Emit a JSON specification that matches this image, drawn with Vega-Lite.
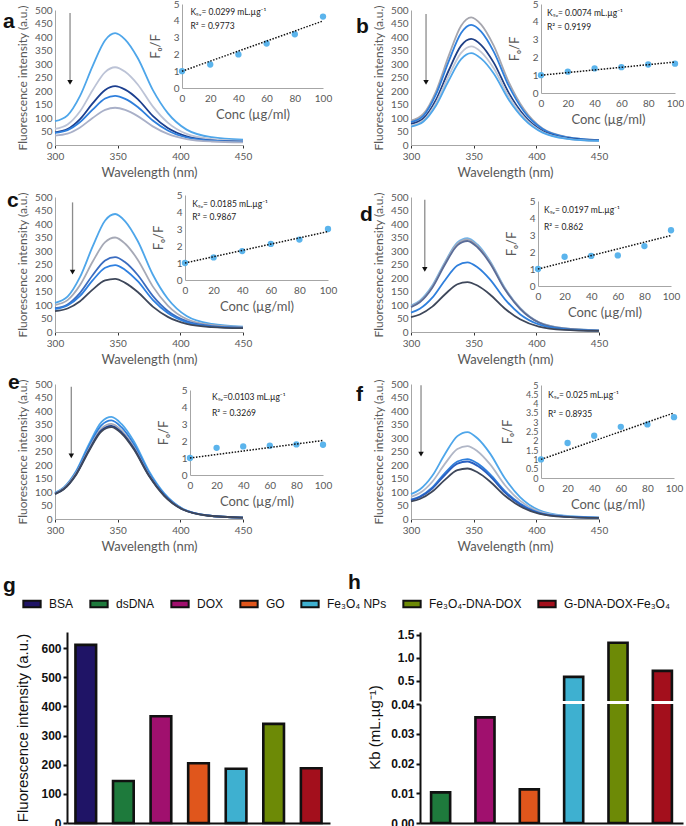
{
"$schema":"https://vega.github.io/schema/vega-lite/v6.json",
"background":"white",
"padding":{"left":3,"top":-1,"right":0,"bottom":0},
"config":{
 "view":{"stroke":null},
 "axis":{"grid":false,"labelFont":"Lato","titleFont":"Lato","labelColor":"#595959","titleColor":"#595959","domainColor":"#a6a6a6","tickColor":"#333","labelFontSize":10,"titleFontSize":13,"titleFontWeight":"normal","ticks":false,"labelPadding":3,"labelFlush":false,"labelOverlap":false},
 "title":{"font":"Liberation Sans","fontSize":21,"fontWeight":"bold","color":"#111","anchor":"start","frame":"group"}
},
"concat":[
{"concat":[
  {"title":{"text":"a","orient":"bottom","dx":-52,"dy":-172},"width":188,"height":135,
   "resolve":{"scale":{"x":"independent","y":"independent"}},
   "layer":[
    {"encoding":{
      "x":{"field":"w","type":"quantitative","scale":{"domain":[300,450]},"axis":{"values":[300,350,400,450],"title":"Wavelength (nm)","ticks":true,"tickSize":3,"titlePadding":5}},
      "y":{"field":"v","type":"quantitative","scale":{"domain":[0,500]},"axis":{"values":[0,50,100,150,200,250,300,350,400,450,500],"title":"Fluorescence intensity (a.u.)","titleFontSize":12,"titlePadding":5}}},
     "layer":[
     {"data":{"values":[
      {"w":300,"a1":88,"a2":60,"a3":47,"a4":45,"a5":35},
      {"w":310,"a1":110,"a2":76,"a3":59,"a4":55,"a5":42},
      {"w":320,"a1":182,"a2":125,"a3":96,"a4":85,"a5":65},
      {"w":330,"a1":292,"a2":203,"a3":154,"a4":131,"a5":100},
      {"w":340,"a1":388,"a2":270,"a3":204,"a4":172,"a5":130},
      {"w":348,"a1":414,"a2":288,"a3":218,"a4":182,"a5":138},
      {"w":356,"a1":390,"a2":271,"a3":205,"a4":171,"a5":130},
      {"w":366,"a1":322,"a2":224,"a3":170,"a4":141,"a5":107},
      {"w":378,"a1":204,"a2":143,"a3":108,"a4":91,"a5":69},
      {"w":390,"a1":118,"a2":83,"a3":63,"a4":54,"a5":41},
      {"w":405,"a1":57,"a2":41,"a3":32,"a4":28,"a5":22},
      {"w":425,"a1":29,"a2":22,"a3":17,"a4":16,"a5":13},
      {"w":450,"a1":20,"a2":15,"a3":12,"a4":12,"a5":10}]},
      "transform":[{"fold":["a1","a2","a3","a4","a5"],"as":["curve","v"]}],
      "mark":{"type":"line","interpolate":"monotone","strokeWidth":1.8},
      "encoding":{
       "stroke":{"field":"curve","type":"nominal","legend":null,"scale":{"domain":["a1","a2","a3","a4","a5","b1","b2","b3","b4","b5","c1","c2","c3","c4","c5","d1","d2","d3","d4","d5","e1","e2","e3","e4","e5","f1","f2","f3","f4","f5"],"range":["#4ea6ea","#bcc3d6","#1c3f8f","#2f7fdc","#a9b0c8","#a6a6ae","#2f7fdc","#1f3f85","#c3c6d2","#4ea6ea","#4ea6ea","#a6a9b6","#3a6cc0","#2f80e0","#3e475a","#6fb4ec","#a6a9b6","#5a6c98","#2f7fdc","#3e475a","#4ea6ea","#2f7fdc","#a6a9b6","#1c3f8f","#3e475a","#4ea6ea","#b0b6c6","#2f7fdc","#2a5fc0","#3e475a"]}}}},
     {"data":{"values":[{"w":312,"v":489,"v2":236}]},"mark":{"type":"rule","color":"#8c8c8c","strokeWidth":1.3},"encoding":{"y2":{"field":"v2"}}},
     {"data":{"values":[{"w":312,"v":232}]},"mark":{"type":"point","shape":"triangle-down","filled":true,"color":"#111","opacity":1,"size":30}}
    ]},
    {"encoding":{
      "x":{"field":"conc","type":"quantitative","scale":{"domain":[0,100],"range":[127,268]},"axis":{"orient":"bottom","offset":-57,"values":[0,20,40,60,80,100],"title":"Conc (µg/ml)","labelPadding":5,"titlePadding":5}},
      "y":{"field":"F","type":"quantitative","scale":{"domain":[0,5],"range":[78,-6]},"axis":{"orient":"left","offset":-127,"values":[0,1,2,3,4,5],"title":"Fₒ/F","titlePadding":11}}},
     "layer":[
     {"data":{"values":[{"conc":0,"F":1},{"conc":20,"F":1.4},{"conc":40,"F":2.0},{"conc":60,"F":2.65},{"conc":80,"F":3.2},{"conc":100,"F":4.25}]},"mark":{"type":"circle","size":40,"color":"#5bb4ec","opacity":1}},
     {"data":{"values":[{"conc":0,"F":1},{"conc":100,"F":3.99}]},"mark":{"type":"line","color":"#111","strokeWidth":1.5,"strokeDash":[1.5,1.5]}},
     {"data":{"values":[{"conc":6,"F":4.55,"label":"Kₛᵥ= 0.0299 mL.µg⁻¹"},{"conc":6,"F":3.7,"label":"R² = 0.9773"}]},"mark":{"type":"text","align":"left","baseline":"middle","fontSize":8.5,"font":"Lato","color":"#222"},"encoding":{"text":{"field":"label"}}}
    ]}
   ]},
  {"title":{"text":"b","orient":"bottom","dx":-55,"dy":-167},"width":188,"height":135,
   "resolve":{"scale":{"x":"independent","y":"independent"}},
   "layer":[
    {"encoding":{
      "x":{"field":"w","type":"quantitative","scale":{"domain":[300,450]},"axis":{"values":[300,350,400,450],"title":"Wavelength (nm)","ticks":true,"tickSize":3,"titlePadding":5}},
      "y":{"field":"v","type":"quantitative","scale":{"domain":[0,500]},"axis":{"values":[0,50,100,150,200,250,300,350,400,450,500],"title":"Fluorescence intensity (a.u.)","titleFontSize":12,"titlePadding":5}}},
     "layer":[
     {"data":{"values":[
      {"w":300,"b1":90,"b2":85,"b3":78,"b4":72,"b5":68},
      {"w":310,"b1":116,"b2":109,"b3":99,"b4":92,"b5":87},
      {"w":320,"b1":199,"b2":188,"b3":168,"b4":156,"b5":146},
      {"w":330,"b1":329,"b2":309,"b3":275,"b4":255,"b5":238},
      {"w":340,"b1":442,"b2":415,"b3":368,"b4":341,"b5":318},
      {"w":348,"b1":473,"b2":445,"b3":393,"b4":365,"b5":340},
      {"w":356,"b1":446,"b2":420,"b3":370,"b4":344,"b5":320},
      {"w":366,"b1":368,"b2":346,"b3":305,"b4":284,"b5":265},
      {"w":378,"b1":233,"b2":219,"b3":193,"b4":180,"b5":168},
      {"w":390,"b1":133,"b2":125,"b3":111,"b4":103,"b5":97},
      {"w":405,"b1":61,"b2":59,"b3":52,"b4":48,"b5":46},
      {"w":425,"b1":29,"b2":28,"b3":25,"b4":23,"b5":23},
      {"w":450,"b1":18,"b2":18,"b3":16,"b4":15,"b5":15}]},
      "transform":[{"fold":["b1","b2","b3","b4","b5"],"as":["curve","v"]}],
      "mark":{"type":"line","interpolate":"monotone","strokeWidth":1.8},
      "encoding":{
       "stroke":{"field":"curve","type":"nominal","legend":null,"scale":{"domain":["a1","a2","a3","a4","a5","b1","b2","b3","b4","b5","c1","c2","c3","c4","c5","d1","d2","d3","d4","d5","e1","e2","e3","e4","e5","f1","f2","f3","f4","f5"],"range":["#4ea6ea","#bcc3d6","#1c3f8f","#2f7fdc","#a9b0c8","#a6a6ae","#2f7fdc","#1f3f85","#c3c6d2","#4ea6ea","#4ea6ea","#a6a9b6","#3a6cc0","#2f80e0","#3e475a","#6fb4ec","#a6a9b6","#5a6c98","#2f7fdc","#3e475a","#4ea6ea","#2f7fdc","#a6a9b6","#1c3f8f","#3e475a","#4ea6ea","#b0b6c6","#2f7fdc","#2a5fc0","#3e475a"]}}}},
     {"data":{"values":[{"w":312,"v":485,"v2":236}]},"mark":{"type":"rule","color":"#8c8c8c","strokeWidth":1.3},"encoding":{"y2":{"field":"v2"}}},
     {"data":{"values":[{"w":312,"v":232}]},"mark":{"type":"point","shape":"triangle-down","filled":true,"color":"#111","opacity":1,"size":30}}
    ]},
    {"encoding":{
      "x":{"field":"conc","type":"quantitative","scale":{"domain":[0,100],"range":[130,264]},"axis":{"orient":"bottom","offset":-52,"values":[0,20,40,60,80,100],"title":"Conc (µg/ml)","labelPadding":5,"titlePadding":5}},
      "y":{"field":"F","type":"quantitative","scale":{"domain":[0,5],"range":[83,-6]},"axis":{"orient":"left","offset":-130,"values":[0,1,2,3,4,5],"title":"Fₒ/F","titlePadding":11}}},
     "layer":[
     {"data":{"values":[{"conc":0,"F":1},{"conc":20,"F":1.2},{"conc":40,"F":1.38},{"conc":60,"F":1.45},{"conc":80,"F":1.6},{"conc":100,"F":1.65}]},"mark":{"type":"circle","size":40,"color":"#5bb4ec","opacity":1}},
     {"data":{"values":[{"conc":0,"F":1},{"conc":100,"F":1.74}]},"mark":{"type":"line","color":"#111","strokeWidth":1.5,"strokeDash":[1.5,1.5]}},
     {"data":{"values":[{"conc":4.5,"F":4.5,"label":"Kₛᵥ= 0.0074 mL.µg⁻¹"},{"conc":4.5,"F":3.7,"label":"R² = 0.9199"}]},"mark":{"type":"text","align":"left","baseline":"middle","fontSize":8.5,"font":"Lato","color":"#222"},"encoding":{"text":{"field":"label"}}}
    ]}
   ]},
  {"title":{"text":"c","orient":"bottom","dx":-48,"dy":-180},"width":188,"height":135,
   "resolve":{"scale":{"x":"independent","y":"independent"}},
   "layer":[
    {"encoding":{
      "x":{"field":"w","type":"quantitative","scale":{"domain":[300,450]},"axis":{"values":[300,350,400,450],"title":"Wavelength (nm)","ticks":true,"tickSize":3,"titlePadding":5}},
      "y":{"field":"v","type":"quantitative","scale":{"domain":[0,500]},"axis":{"values":[0,50,100,150,200,250,300,350,400,450,500],"title":"Fluorescence intensity (a.u.)","titleFontSize":12,"titlePadding":5}}},
     "layer":[
     {"data":{"values":[
      {"w":300,"c1":108,"c2":100,"c3":88,"c4":85,"c5":77},
      {"w":310,"c1":131,"c2":118,"c3":102,"c4":98,"c5":87},
      {"w":320,"c1":204,"c2":174,"c3":145,"c4":134,"c5":114},
      {"w":330,"c1":316,"c2":260,"c3":210,"c4":191,"c5":157},
      {"w":340,"c1":413,"c2":333,"c3":265,"c4":238,"c5":191},
      {"w":348,"c1":437,"c2":350,"c3":277,"c4":248,"c5":197},
      {"w":356,"c1":410,"c2":327,"c3":258,"c4":230,"c5":182},
      {"w":366,"c1":337,"c2":268,"c3":211,"c4":188,"c5":148},
      {"w":378,"c1":213,"c2":169,"c3":134,"c4":119,"c5":94},
      {"w":390,"c1":123,"c2":98,"c3":78,"c4":70,"c5":56},
      {"w":405,"c1":59,"c2":48,"c3":40,"c4":36,"c5":30},
      {"w":425,"c1":30,"c2":26,"c3":22,"c4":20,"c5":18},
      {"w":450,"c1":20,"c2":18,"c3":16,"c4":15,"c5":14}]},
      "transform":[{"fold":["c1","c2","c3","c4","c5"],"as":["curve","v"]}],
      "mark":{"type":"line","interpolate":"monotone","strokeWidth":1.8},
      "encoding":{
       "stroke":{"field":"curve","type":"nominal","legend":null,"scale":{"domain":["a1","a2","a3","a4","a5","b1","b2","b3","b4","b5","c1","c2","c3","c4","c5","d1","d2","d3","d4","d5","e1","e2","e3","e4","e5","f1","f2","f3","f4","f5"],"range":["#4ea6ea","#bcc3d6","#1c3f8f","#2f7fdc","#a9b0c8","#a6a6ae","#2f7fdc","#1f3f85","#c3c6d2","#4ea6ea","#4ea6ea","#a6a9b6","#3a6cc0","#2f80e0","#3e475a","#6fb4ec","#a6a9b6","#5a6c98","#2f7fdc","#3e475a","#4ea6ea","#2f7fdc","#a6a9b6","#1c3f8f","#3e475a","#4ea6ea","#b0b6c6","#2f7fdc","#2a5fc0","#3e475a"]}}}},
     {"data":{"values":[{"w":314,"v":480,"v2":226}]},"mark":{"type":"rule","color":"#8c8c8c","strokeWidth":1.3},"encoding":{"y2":{"field":"v2"}}},
     {"data":{"values":[{"w":314,"v":222}]},"mark":{"type":"point","shape":"triangle-down","filled":true,"color":"#111","opacity":1,"size":30}}
    ]},
    {"encoding":{
      "x":{"field":"conc","type":"quantitative","scale":{"domain":[0,100],"range":[130,273]},"axis":{"orient":"bottom","offset":-52,"values":[0,20,40,60,80,100],"title":"Conc (µg/ml)","labelPadding":5,"titlePadding":5}},
      "y":{"field":"F","type":"quantitative","scale":{"domain":[0,5],"range":[83,-2]},"axis":{"orient":"left","offset":-130,"values":[0,1,2,3,4,5],"title":"Fₒ/F","titlePadding":11}}},
     "layer":[
     {"data":{"values":[{"conc":0,"F":1},{"conc":20,"F":1.33},{"conc":40,"F":1.7},{"conc":60,"F":2.12},{"conc":80,"F":2.38},{"conc":100,"F":3.0}]},"mark":{"type":"circle","size":40,"color":"#5bb4ec","opacity":1}},
     {"data":{"values":[{"conc":0,"F":1},{"conc":100,"F":2.85}]},"mark":{"type":"line","color":"#111","strokeWidth":1.5,"strokeDash":[1.5,1.5]}},
     {"data":{"values":[{"conc":5,"F":4.5,"label":"Kₛᵥ= 0.0185 mL.µg⁻¹"},{"conc":5,"F":3.7,"label":"R² = 0.9867"}]},"mark":{"type":"text","align":"left","baseline":"middle","fontSize":8.5,"font":"Lato","color":"#222"},"encoding":{"text":{"field":"label"}}}
    ]}
   ]},
  {"title":{"text":"d","orient":"bottom","dx":-51,"dy":-166},"width":188,"height":135,
   "resolve":{"scale":{"x":"independent","y":"independent"}},
   "layer":[
    {"encoding":{
      "x":{"field":"w","type":"quantitative","scale":{"domain":[300,450]},"axis":{"values":[300,350,400,450],"title":"Wavelength (nm)","ticks":true,"tickSize":3,"titlePadding":5}},
      "y":{"field":"v","type":"quantitative","scale":{"domain":[0,500]},"axis":{"values":[0,50,100,150,200,250,300,350,400,450,500],"title":"Fluorescence intensity (a.u.)","titleFontSize":12,"titlePadding":5}}},
     "layer":[
     {"data":{"values":[
      {"w":300,"d1":98,"d2":95,"d3":92,"d4":72,"d5":55},
      {"w":307,"d1":116,"d2":113,"d3":110,"d4":86,"d5":65},
      {"w":317,"d1":172,"d2":168,"d3":164,"d4":127,"d5":94},
      {"w":327,"d1":258,"d2":254,"d3":249,"d4":191,"d5":139},
      {"w":337,"d1":332,"d2":327,"d3":321,"d4":246,"d5":177},
      {"w":345,"d1":348,"d2":343,"d3":337,"d4":258,"d5":185},
      {"w":353,"d1":324,"d2":319,"d3":314,"d4":240,"d5":172},
      {"w":363,"d1":263,"d2":259,"d3":255,"d4":195,"d5":139},
      {"w":375,"d1":162,"d2":160,"d3":157,"d4":121,"d5":86},
      {"w":387,"d1":89,"d2":88,"d3":86,"d4":66,"d5":47},
      {"w":402,"d1":36,"d2":36,"d3":35,"d4":28,"d5":20},
      {"w":422,"d1":14,"d2":14,"d3":12,"d4":11,"d5":8},
      {"w":450,"d1":6,"d2":6,"d3":5,"d4":5,"d5":4}]},
      "transform":[{"fold":["d1","d2","d3","d4","d5"],"as":["curve","v"]}],
      "mark":{"type":"line","interpolate":"monotone","strokeWidth":1.8},
      "encoding":{
       "stroke":{"field":"curve","type":"nominal","legend":null,"scale":{"domain":["a1","a2","a3","a4","a5","b1","b2","b3","b4","b5","c1","c2","c3","c4","c5","d1","d2","d3","d4","d5","e1","e2","e3","e4","e5","f1","f2","f3","f4","f5"],"range":["#4ea6ea","#bcc3d6","#1c3f8f","#2f7fdc","#a9b0c8","#a6a6ae","#2f7fdc","#1f3f85","#c3c6d2","#4ea6ea","#4ea6ea","#a6a9b6","#3a6cc0","#2f80e0","#3e475a","#6fb4ec","#a6a9b6","#5a6c98","#2f7fdc","#3e475a","#4ea6ea","#2f7fdc","#a6a9b6","#1c3f8f","#3e475a","#4ea6ea","#b0b6c6","#2f7fdc","#2a5fc0","#3e475a"]}}}},
     {"data":{"values":[{"w":311,"v":490,"v2":236}]},"mark":{"type":"rule","color":"#8c8c8c","strokeWidth":1.3},"encoding":{"y2":{"field":"v2"}}},
     {"data":{"values":[{"w":311,"v":232}]},"mark":{"type":"point","shape":"triangle-down","filled":true,"color":"#111","opacity":1,"size":30}}
    ]},
    {"encoding":{
      "x":{"field":"conc","type":"quantitative","scale":{"domain":[0,100],"range":[127,260]},"axis":{"orient":"bottom","offset":-46,"values":[0,20,40,60,80,100],"title":"Conc (µg/ml)","labelPadding":5,"titlePadding":5}},
      "y":{"field":"F","type":"quantitative","scale":{"domain":[0,5],"range":[89,4]},"axis":{"orient":"left","offset":-127,"values":[0,1,2,3,4,5],"title":"Fₒ/F","titlePadding":11}}},
     "layer":[
     {"data":{"values":[{"conc":0,"F":1},{"conc":20,"F":1.72},{"conc":40,"F":1.77},{"conc":60,"F":1.8},{"conc":80,"F":2.35},{"conc":100,"F":3.28}]},"mark":{"type":"circle","size":40,"color":"#5bb4ec","opacity":1}},
     {"data":{"values":[{"conc":0,"F":1},{"conc":100,"F":2.97}]},"mark":{"type":"line","color":"#111","strokeWidth":1.5,"strokeDash":[1.5,1.5]}},
     {"data":{"values":[{"conc":4.5,"F":4.5,"label":"Kₛᵥ= 0.0197 mL.µg⁻¹"},{"conc":4.5,"F":3.5,"label":"R² = 0.862"}]},"mark":{"type":"text","align":"left","baseline":"middle","fontSize":8.5,"font":"Lato","color":"#222"},"encoding":{"text":{"field":"label"}}}
    ]}
   ]},
  {"title":{"text":"e","orient":"bottom","dx":-47,"dy":-185},"width":188,"height":135,
   "resolve":{"scale":{"x":"independent","y":"independent"}},
   "layer":[
    {"encoding":{
      "x":{"field":"w","type":"quantitative","scale":{"domain":[300,450]},"axis":{"values":[300,350,400,450],"title":"Wavelength (nm)","ticks":true,"tickSize":3,"titlePadding":5}},
      "y":{"field":"v","type":"quantitative","scale":{"domain":[0,500]},"axis":{"values":[0,50,100,150,200,250,300,350,400,450,500],"title":"Fluorescence intensity (a.u.)","titleFontSize":12,"titlePadding":5}}},
     "layer":[
     {"data":{"values":[
      {"w":300,"e1":97,"e2":96,"e3":95,"e4":93,"e5":92},
      {"w":307,"e1":117,"e2":115,"e3":114,"e4":111,"e5":110},
      {"w":317,"e1":179,"e2":175,"e3":171,"e4":167,"e5":165},
      {"w":327,"e1":276,"e2":268,"e3":259,"e4":254,"e5":251},
      {"w":337,"e1":359,"e2":347,"e3":335,"e4":328,"e5":324},
      {"w":345,"e1":378,"e2":365,"e3":352,"e4":345,"e5":340},
      {"w":353,"e1":352,"e2":340,"e3":328,"e4":321,"e5":317},
      {"w":363,"e1":287,"e2":276,"e3":266,"e4":261,"e5":257},
      {"w":375,"e1":177,"e2":170,"e3":164,"e4":161,"e5":159},
      {"w":387,"e1":96,"e2":93,"e3":89,"e4":88,"e5":86},
      {"w":402,"e1":38,"e2":37,"e3":36,"e4":35,"e5":35},
      {"w":422,"e1":13,"e2":13,"e3":13,"e4":13,"e5":12},
      {"w":450,"e1":5,"e2":5,"e3":5,"e4":5,"e5":5}]},
      "transform":[{"fold":["e1","e2","e3","e4","e5"],"as":["curve","v"]}],
      "mark":{"type":"line","interpolate":"monotone","strokeWidth":1.8},
      "encoding":{
       "stroke":{"field":"curve","type":"nominal","legend":null,"scale":{"domain":["a1","a2","a3","a4","a5","b1","b2","b3","b4","b5","c1","c2","c3","c4","c5","d1","d2","d3","d4","d5","e1","e2","e3","e4","e5","f1","f2","f3","f4","f5"],"range":["#4ea6ea","#bcc3d6","#1c3f8f","#2f7fdc","#a9b0c8","#a6a6ae","#2f7fdc","#1f3f85","#c3c6d2","#4ea6ea","#4ea6ea","#a6a9b6","#3a6cc0","#2f80e0","#3e475a","#6fb4ec","#a6a9b6","#5a6c98","#2f7fdc","#3e475a","#4ea6ea","#2f7fdc","#a6a9b6","#1c3f8f","#3e475a","#4ea6ea","#b0b6c6","#2f7fdc","#2a5fc0","#3e475a"]}}}},
     {"data":{"values":[{"w":313,"v":490,"v2":238}]},"mark":{"type":"rule","color":"#8c8c8c","strokeWidth":1.3},"encoding":{"y2":{"field":"v2"}}},
     {"data":{"values":[{"w":313,"v":234}]},"mark":{"type":"point","shape":"triangle-down","filled":true,"color":"#111","opacity":1,"size":30}}
    ]},
    {"encoding":{
      "x":{"field":"conc","type":"quantitative","scale":{"domain":[0,100],"range":[135,268]},"axis":{"orient":"bottom","offset":-44,"values":[0,20,40,60,80,100],"title":"Conc (µg/ml)","labelPadding":5,"titlePadding":5}},
      "y":{"field":"F","type":"quantitative","scale":{"domain":[0,5],"range":[91,6]},"axis":{"orient":"left","offset":-135,"values":[0,1,2,3,4,5],"title":"Fₒ/F","titlePadding":11}}},
     "layer":[
     {"data":{"values":[{"conc":0,"F":1},{"conc":20,"F":1.6},{"conc":40,"F":1.68},{"conc":60,"F":1.72},{"conc":80,"F":1.8},{"conc":100,"F":1.78}]},"mark":{"type":"circle","size":40,"color":"#5bb4ec","opacity":1}},
     {"data":{"values":[{"conc":0,"F":1},{"conc":100,"F":2.03}]},"mark":{"type":"line","color":"#111","strokeWidth":1.5,"strokeDash":[1.5,1.5]}},
     {"data":{"values":[{"conc":16.5,"F":4.57,"label":"Kₛᵥ=0.0103 mL.µg⁻¹"},{"conc":16.5,"F":3.63,"label":"R² = 0.3269"}]},"mark":{"type":"text","align":"left","baseline":"middle","fontSize":8.5,"font":"Lato","color":"#222"},"encoding":{"text":{"field":"label"}}}
    ]}
   ]},
  {"title":{"text":"f","orient":"bottom","dx":-55,"dy":-173},"width":188,"height":135,
   "resolve":{"scale":{"x":"independent","y":"independent"}},
   "layer":[
    {"encoding":{
      "x":{"field":"w","type":"quantitative","scale":{"domain":[300,450]},"axis":{"values":[300,350,400,450],"title":"Wavelength (nm)","ticks":true,"tickSize":3,"titlePadding":5}},
      "y":{"field":"v","type":"quantitative","scale":{"domain":[0,500]},"axis":{"values":[0,50,100,150,200,250,300,350,400,450,500],"title":"Fluorescence intensity (a.u.)","titleFontSize":12,"titlePadding":5}}},
     "layer":[
     {"data":{"values":[
      {"w":300,"f1":92,"f2":82,"f3":72,"f4":70,"f5":65},
      {"w":307,"f1":109,"f2":96,"f3":83,"f4":81,"f5":74},
      {"w":317,"f1":160,"f2":138,"f3":117,"f4":113,"f5":102},
      {"w":327,"f1":240,"f2":204,"f3":170,"f4":163,"f5":145},
      {"w":337,"f1":307,"f2":259,"f3":213,"f4":205,"f5":181},
      {"w":345,"f1":322,"f2":270,"f3":222,"f4":213,"f5":187},
      {"w":353,"f1":299,"f2":251,"f3":206,"f4":197,"f5":173},
      {"w":363,"f1":243,"f2":203,"f3":166,"f4":159,"f5":139},
      {"w":375,"f1":150,"f2":125,"f3":103,"f4":98,"f5":86},
      {"w":387,"f1":81,"f2":68,"f3":57,"f4":54,"f5":47},
      {"w":402,"f1":33,"f2":28,"f3":24,"f4":22,"f5":20},
      {"w":422,"f1":12,"f2":11,"f3":10,"f4":9,"f5":8},
      {"w":450,"f1":5,"f2":5,"f3":5,"f4":4,"f5":4}]},
      "transform":[{"fold":["f1","f2","f3","f4","f5"],"as":["curve","v"]}],
      "mark":{"type":"line","interpolate":"monotone","strokeWidth":1.8},
      "encoding":{
       "stroke":{"field":"curve","type":"nominal","legend":null,"scale":{"domain":["a1","a2","a3","a4","a5","b1","b2","b3","b4","b5","c1","c2","c3","c4","c5","d1","d2","d3","d4","d5","e1","e2","e3","e4","e5","f1","f2","f3","f4","f5"],"range":["#4ea6ea","#bcc3d6","#1c3f8f","#2f7fdc","#a9b0c8","#a6a6ae","#2f7fdc","#1f3f85","#c3c6d2","#4ea6ea","#4ea6ea","#a6a9b6","#3a6cc0","#2f80e0","#3e475a","#6fb4ec","#a6a9b6","#5a6c98","#2f7fdc","#3e475a","#4ea6ea","#2f7fdc","#a6a9b6","#1c3f8f","#3e475a","#4ea6ea","#b0b6c6","#2f7fdc","#2a5fc0","#3e475a"]}}}},
     {"data":{"values":[{"w":308,"v":495,"v2":244}]},"mark":{"type":"rule","color":"#8c8c8c","strokeWidth":1.3},"encoding":{"y2":{"field":"v2"}}},
     {"data":{"values":[{"w":308,"v":240}]},"mark":{"type":"point","shape":"triangle-down","filled":true,"color":"#111","opacity":1,"size":30}}
    ]},
    {"encoding":{
      "x":{"field":"conc","type":"quantitative","scale":{"domain":[0,100],"range":[130,263]},"axis":{"orient":"bottom","offset":-41,"values":[0,20,40,60,80,100],"title":"Conc (µg/ml)","labelPadding":5,"titlePadding":5}},
      "y":{"field":"F","type":"quantitative","scale":{"domain":[0,5],"range":[94,1]},"axis":{"orient":"left","offset":-130,"values":[0,0.5,1,1.5,2,2.5,3,3.5,4,4.5,5],"format":"~g","labelFontSize":9,"title":"Fₒ/F","titlePadding":11}}},
     "layer":[
     {"data":{"values":[{"conc":0,"F":1},{"conc":20,"F":1.88},{"conc":40,"F":2.27},{"conc":60,"F":2.75},{"conc":80,"F":2.88},{"conc":100,"F":3.27}]},"mark":{"type":"circle","size":40,"color":"#5bb4ec","opacity":1}},
     {"data":{"values":[{"conc":0,"F":1},{"conc":100,"F":3.5}]},"mark":{"type":"line","color":"#111","strokeWidth":1.5,"strokeDash":[1.5,1.5]}},
     {"data":{"values":[{"conc":5.3,"F":4.45,"label":"Kₛᵥ= 0.025 mL.µg⁻¹"},{"conc":5.3,"F":3.46,"label":"R² = 0.8935"}]},"mark":{"type":"text","align":"left","baseline":"middle","fontSize":8.5,"font":"Lato","color":"#222"},"encoding":{"text":{"field":"label"}}}
    ]}
   ]}
],"columns":2,"spacing":{"row":52,"column":168},"bounds":"flush"},
{"hconcat":[
 {"width":2,"height":10,"data":{"values":[]},"mark":{"type":"point","opacity":0}},
 {"hconcat":[
 {"title":{"text":"g","dx":-64,"dy":-32},"width":263,"height":191,
  "data":{"values":[{"sample":"BSA","intensity":611},{"sample":"dsDNA","intensity":144},{"sample":"DOX","intensity":366},{"sample":"GO","intensity":205},{"sample":"Fe₃O₄ NPs","intensity":186},{"sample":"Fe₃O₄-DNA-DOX","intensity":340},{"sample":"G-DNA-DOX-Fe₃O₄","intensity":188}]},
  "mark":{"type":"bar","stroke":"#111","strokeWidth":2.6},
  "encoding":{
   "x":{"field":"sample","type":"nominal","sort":null,"scale":{"paddingInner":0.45,"paddingOuter":0.225},"axis":{"labels":false,"ticks":false,"title":null,"domainColor":"#111","domainWidth":2}},
   "y":{"field":"intensity","type":"quantitative","scale":{"domain":[0,655],"nice":false},"axis":{"values":[0,100,200,300,400,500,600],"title":"Fluorescence intensity (a.u.)","labelFont":"Liberation Sans","titleFont":"Liberation Sans","labelFontWeight":"bold","labelFontSize":12,"labelColor":"#111","titleColor":"#111","titleFontSize":15,"ticks":true,"tickColor":"#111","tickWidth":2,"tickSize":4,"domainColor":"#111","domainWidth":2,"labelPadding":2,"titlePadding":10}},
   "color":{"field":"sample","type":"nominal","sort":null,"scale":{"domain":["BSA","dsDNA","DOX","GO","Fe₃O₄ NPs","Fe₃O₄-DNA-DOX","G-DNA-DOX-Fe₃O₄"],"range":["#1f1466","#1e7a3c","#a0106e","#e0561c","#3eb0d0","#6d8a06","#a30f1c"]},
    "legend":{"title":null,"orient":"none","legendX":-33,"legendY":584,"direction":"horizontal","columns":7,"columnPadding":12,"gridAlign":"none","symbolType":"M-1,-0.38H1V0.38H-1Z","symbolSize":300,"symbolStrokeColor":"#111","symbolStrokeWidth":2,"symbolOpacity":1,"labelFont":"Liberation Sans","labelFontSize":12,"labelColor":"#111","labelOffset":7,"labelLimit":200}}
  }},
 {"vconcat":[
  {"title":{"text":"h","dx":-72,"dy":-32},"width":263,"height":69,
   "data":{"values":[{"sample":"dsDNA","kb":0.0103},{"sample":"DOX","kb":0.0355},{"sample":"GO","kb":0.0113},{"sample":"Fe₃O₄ NPs","kb":0.59},{"sample":"Fe₃O₄-DNA-DOX","kb":1.33},{"sample":"G-DNA-DOX-Fe₃O₄","kb":0.72}]},
   "mark":{"type":"bar","stroke":"#111","strokeWidth":2.6,"clip":true},
   "encoding":{
    "x":{"field":"sample","type":"nominal","sort":null,"scale":{"paddingInner":0.57,"paddingOuter":0.25},"axis":null},
    "y":{"field":"kb","type":"quantitative","scale":{"domain":[0.065,1.565],"nice":false,"zero":false},"axis":{"values":[0.5,1,1.5],"format":".1f","title":null,"labelFont":"Liberation Sans","labelFontWeight":"bold","labelFontSize":12,"labelColor":"#111","ticks":true,"tickColor":"#111","tickWidth":2,"tickSize":4,"domainColor":"#111","domainWidth":2,"labelPadding":2}},
    "y2":{"datum":0},
    "color":{"field":"sample","type":"nominal","sort":null,"scale":{"domain":["BSA","dsDNA","DOX","GO","Fe₃O₄ NPs","Fe₃O₄-DNA-DOX","G-DNA-DOX-Fe₃O₄"],"range":["#1f1466","#1e7a3c","#a0106e","#e0561c","#3eb0d0","#6d8a06","#a30f1c"]},"legend":null}
   }},
  {"width":263,"height":119,
   "data":{"values":[{"sample":"dsDNA","kb":0.0103},{"sample":"DOX","kb":0.0355},{"sample":"GO","kb":0.0113},{"sample":"Fe₃O₄ NPs","kb":0.59},{"sample":"Fe₃O₄-DNA-DOX","kb":1.33},{"sample":"G-DNA-DOX-Fe₃O₄","kb":0.72}]},
   "mark":{"type":"bar","stroke":"#111","strokeWidth":2.6,"clip":true},
   "encoding":{
    "x":{"field":"sample","type":"nominal","sort":null,"scale":{"paddingInner":0.57,"paddingOuter":0.25},"axis":{"labels":false,"ticks":false,"title":null,"domainColor":"#111","domainWidth":2}},
    "y":{"field":"kb","type":"quantitative","scale":{"domain":[0,0.04],"nice":false},"axis":{"values":[0,0.01,0.02,0.03,0.04],"format":".2f","title":"Kb (mL.µg⁻¹)","titleY":23,"titleAlign":"center","labelFont":"Liberation Sans","titleFont":"Liberation Sans","labelFontWeight":"bold","labelFontSize":12,"labelColor":"#111","titleColor":"#111","titleFontSize":15,"ticks":true,"tickColor":"#111","tickWidth":2,"tickSize":4,"domainColor":"#111","domainWidth":2,"labelPadding":2,"titlePadding":8}},
    "color":{"field":"sample","type":"nominal","sort":null,"scale":{"domain":["BSA","dsDNA","DOX","GO","Fe₃O₄ NPs","Fe₃O₄-DNA-DOX","G-DNA-DOX-Fe₃O₄"],"range":["#1f1466","#1e7a3c","#a0106e","#e0561c","#3eb0d0","#6d8a06","#a30f1c"]},"legend":null}
   }}
 ],"spacing":3,"bounds":"flush"}
 ],"spacing":90,"bounds":"flush"}
],"spacing":10,"bounds":"flush"}
],"columns":1,"align":"none","spacing":18
}
